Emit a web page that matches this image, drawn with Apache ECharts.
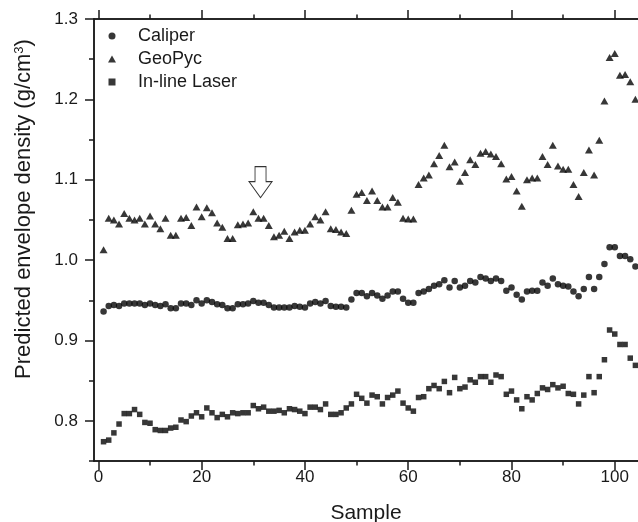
<!DOCTYPE html>
<html>
<head>
<meta charset="utf-8">
<script src="https://cdn.jsdelivr.net/npm/echarts@6/dist/echarts.min.js"></script>
<style>
  html, body { margin: 0; padding: 0; background: #fff; }
  #chart { width: 638px; height: 522px; }
</style>
</head>
<body>
<div id="chart"></div>
<script>
// sample numbers along the x axis
const samples = [
  1, 2, 3, 4, 5, 6, 7, 8, 9, 10, 11, 12, 13, 14, 15, 16, 17, 18, 19, 20,
  21, 22, 23, 24, 25, 26, 27, 28, 29, 30, 31, 32, 33, 34, 35, 36, 37, 38, 39, 40,
  41, 42, 43, 44, 45, 46, 47, 48, 49, 50, 51, 52, 53, 54, 55, 56, 57, 58, 59, 60,
  61, 62, 63, 64, 65, 66, 67, 68, 69, 70, 71, 72, 73, 74, 75, 76, 77, 78, 79, 80,
  81, 82, 83, 84, 85, 86, 87, 88, 89, 90, 91, 92, 93, 94, 95, 96, 97, 98, 99, 100,
  101, 102, 103, 104
];

// predicted envelope density, g/cm3
const caliper = [
  0.936, 0.943, 0.944, 0.943, 0.946, 0.946, 0.946, 0.946, 0.944, 0.946,
  0.944, 0.943, 0.945, 0.940, 0.940, 0.946, 0.946, 0.944, 0.950, 0.946,
  0.950, 0.948, 0.945, 0.944, 0.940, 0.940, 0.945, 0.945, 0.946, 0.949,
  0.947, 0.947, 0.944, 0.941, 0.941, 0.941, 0.941, 0.943, 0.942, 0.941,
  0.946, 0.948, 0.946, 0.949, 0.943, 0.942, 0.942, 0.941, 0.951, 0.959,
  0.959, 0.955, 0.959, 0.956, 0.952, 0.956, 0.961, 0.961, 0.952, 0.947,
  0.947, 0.959, 0.961, 0.964, 0.968, 0.970, 0.975, 0.966, 0.974, 0.966,
  0.968, 0.974, 0.972, 0.979, 0.977, 0.974, 0.977, 0.974, 0.962, 0.966,
  0.957, 0.951, 0.961, 0.962, 0.962, 0.972, 0.968, 0.977, 0.970, 0.968,
  0.967, 0.961, 0.955, 0.964, 0.979, 0.964, 0.979, 0.995, 1.016, 1.016,
  1.005, 1.005, 1.001, 0.992
];

const geoPyc = [
  1.013, 1.052, 1.050, 1.045, 1.058, 1.052, 1.050, 1.052, 1.045, 1.055,
  1.045, 1.039, 1.052, 1.031, 1.031, 1.052, 1.053, 1.043, 1.066, 1.054,
  1.065, 1.059, 1.046, 1.041, 1.027, 1.027, 1.044, 1.045, 1.046, 1.060,
  1.052, 1.052, 1.043, 1.029, 1.031, 1.036, 1.027, 1.035, 1.037, 1.037,
  1.045, 1.054, 1.050, 1.060, 1.039, 1.038, 1.035, 1.033, 1.062, 1.082,
  1.084, 1.074, 1.086, 1.074, 1.066, 1.066, 1.078, 1.072, 1.052, 1.051,
  1.051, 1.094, 1.102, 1.106, 1.120, 1.130, 1.143, 1.116, 1.122, 1.098,
  1.109, 1.125, 1.119, 1.133, 1.135, 1.132, 1.129, 1.120, 1.101, 1.104,
  1.086, 1.067, 1.100, 1.102, 1.102, 1.129, 1.119, 1.143, 1.117, 1.113,
  1.113, 1.094, 1.079, 1.109, 1.137, 1.106, 1.149, 1.198, 1.252, 1.257,
  1.230, 1.231, 1.222, 1.200
];

const laser = [
  0.774, 0.776, 0.785, 0.796, 0.809, 0.809, 0.814, 0.808, 0.798, 0.797,
  0.789, 0.788, 0.788, 0.791, 0.792, 0.801, 0.799, 0.806, 0.810, 0.805,
  0.816, 0.810, 0.804, 0.808, 0.805, 0.810, 0.809, 0.810, 0.810, 0.819,
  0.815, 0.817, 0.812, 0.812, 0.813, 0.810, 0.815, 0.814, 0.812, 0.809,
  0.817, 0.817, 0.814, 0.821, 0.808, 0.808, 0.810, 0.816, 0.821, 0.833,
  0.828, 0.822, 0.832, 0.830, 0.821, 0.829, 0.832, 0.837, 0.822, 0.816,
  0.812, 0.829, 0.830, 0.840, 0.844, 0.840, 0.849, 0.835, 0.854, 0.840,
  0.842, 0.851, 0.848, 0.855, 0.855, 0.848, 0.857, 0.855, 0.833, 0.837,
  0.826, 0.815, 0.830, 0.826, 0.834, 0.841, 0.839, 0.845, 0.841, 0.843,
  0.834, 0.833, 0.821, 0.832, 0.855, 0.835, 0.855, 0.876, 0.913, 0.908,
  0.895, 0.895, 0.878, 0.869
];

const xMajorTicks = [0, 20, 40, 60, 80, 100];
const xMinorTicks = [10, 30, 50, 70, 90];
const yMajorTicks = [0.8, 0.9, 1.0, 1.1, 1.2, 1.3];
const yMinorTicks = [0.75, 0.85, 0.95, 1.05, 1.15, 1.25];

// open arrow marking sample ~31
const arrowAt = [31.4, 1.097];

const ink = '#1a1a1a';
const dot = '#050505';
const font = '"Liberation Sans", Arial, sans-serif';

function pair(ys) {
  return samples.map((s, i) => [s, ys[i]]);
}

function xAxisPart(pos, ticks, len, withLabels) {
  return {
    type: 'value', position: pos, min: -0.85, max: 104.5,
    axisLine: { show: true, onZero: false, lineStyle: { color: ink, width: 1.5 } },
    axisTick: { show: true, inside: false, length: len, customValues: ticks,
                lineStyle: { color: ink, width: 1.5 } },
    axisLabel: withLabels
      ? { show: true, customValues: ticks, margin: 8, fontSize: 17, fontFamily: font, color: ink }
      : { show: false },
    splitLine: { show: false }
  };
}

function yAxisPart(ticks, len, withLabels) {
  return {
    type: 'value', position: 'left', min: 0.75, max: 1.3,
    axisLine: { show: true, onZero: false, lineStyle: { color: ink, width: 1.5 } },
    axisTick: { show: true, inside: false, length: len, customValues: ticks,
                lineStyle: { color: ink, width: 1.5 } },
    axisLabel: withLabels
      ? { show: true, customValues: ticks, margin: 16, fontSize: 17, fontFamily: font, color: ink,
          formatter: v => v.toFixed(1) }
      : { show: false },
    splitLine: { show: false }
  };
}

const bottomAxis = xAxisPart('bottom', xMajorTicks, 9, true);
bottomAxis.name = 'Sample';
bottomAxis.nameLocation = 'middle';
bottomAxis.nameGap = 42;
bottomAxis.nameTextStyle = { fontSize: 21, fontFamily: font, color: ink };

const leftAxis = yAxisPart(yMajorTicks, 9, true);
leftAxis.name = 'Predicted envelope density (g/cm{sup|3})';
leftAxis.nameLocation = 'middle';
leftAxis.nameGap = 59;
leftAxis.nameTextStyle = {
  fontSize: 22, fontFamily: font, color: ink, padding: [0, 0, 0, 62],
  rich: { sup: { fontSize: 13, fontFamily: font, color: ink, verticalAlign: 'top' } }
};

const chart = echarts.init(document.getElementById('chart'));
chart.setOption({
  animation: false,
  backgroundColor: '#fff',
  grid: { left: 94, right: 0, top: 19, bottom: 61, containLabel: false, outerBoundsMode: 'none' },
  legend: {
    orient: 'vertical', left: 103, top: 22,
    itemWidth: 42, itemHeight: 7, itemGap: 5,
    selectedMode: false,
    textStyle: { fontSize: 18, fontFamily: font, color: ink },
    data: [
      { name: 'Caliper', icon: 'circle' },
      { name: 'GeoPyc', icon: 'path://M1,0 L2,1.75 L0,1.75 Z' },
      { name: 'In-line Laser', icon: 'path://M0,0 H1 V1 H0 Z' }
    ]
  },
  xAxis: [
    bottomAxis,
    xAxisPart('bottom', xMinorTicks, 4.5, false),
    xAxisPart('top', xMajorTicks, 9, false),
    xAxisPart('top', xMinorTicks, 4.5, false)
  ],
  yAxis: [
    leftAxis,
    yAxisPart(yMinorTicks, 5, false)
  ],
  series: [
    {
      name: 'Caliper', type: 'scatter', symbol: 'circle', symbolSize: 6.5,
      itemStyle: { color: dot }, data: pair(caliper),
      markPoint: {
        symbol: 'path://M6,0 H17 V15 H23 L11.5,31 L0,15 H6 Z',
        symbolSize: [23, 31], symbolKeepAspect: false,
        itemStyle: { color: '#fff', borderColor: '#333', borderWidth: 1 },
        label: { show: false },
        data: [{ coord: arrowAt }]
      }
    },
    {
      name: 'GeoPyc', type: 'scatter', symbol: 'triangle', symbolSize: [8, 7],
      itemStyle: { color: dot }, data: pair(geoPyc)
    },
    {
      name: 'In-line Laser', type: 'scatter', symbol: 'rect', symbolSize: 5.5,
      itemStyle: { color: dot }, data: pair(laser)
    }
  ]
});
</script>
</body>
</html>
